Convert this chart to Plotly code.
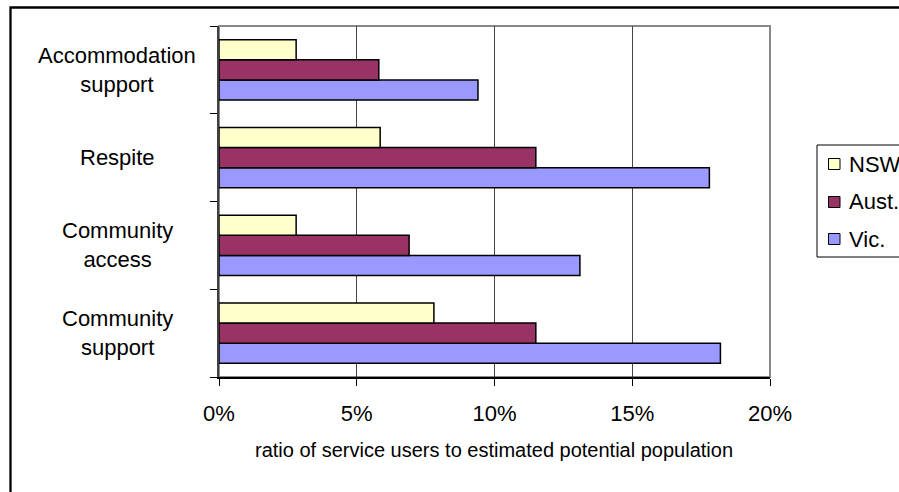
import plotly.graph_objects as go

# Data (bottom-to-top category order for Plotly)
categories = ["Community support", "Community access", "Respite", "Accommodation support"]
cat_labels = ["Community<br>support", "Community<br>access", "Respite", "Accommodation<br>support"]
nsw = [0.078, 0.028, 0.0585, 0.028]
aust = [0.115, 0.069, 0.115, 0.058]
vic = [0.182, 0.131, 0.178, 0.094]
series_names = ["NSW", "Aust.", "Vic."]
colors = {"NSW": "#FFFFCC", "Aust.": "#993366", "Vic.": "#9999FF"}
x_ticks = [0, 0.05, 0.10, 0.15, 0.20]

W, H = 899, 492
L, R, T, B = 219, 770, 26, 377  # plot area in pixels
pw, ph = R - L, B - T

def px(x):
    return (x - L) / pw

def py(y):
    return (B - y) / ph

FONT = "Liberation Sans, Arial, sans-serif"

fig = go.Figure()
# Vic first so it sits at the bottom of each group
for name, vals in [("Vic.", vic), ("Aust.", aust), ("NSW", nsw)]:
    fig.add_trace(go.Bar(
        y=categories, x=vals, orientation="h", name=name,
        marker=dict(color=colors[name], line=dict(color="#000000", width=1.5)),
        showlegend=False, hoverinfo="skip",
    ))

fig.update_layout(
    width=W, height=H,
    margin=dict(l=L, r=W - R, t=T, b=H - B, pad=0),
    paper_bgcolor="white", plot_bgcolor="white",
    barmode="group", bargap=0.316, bargroupgap=0,
    font=dict(family=FONT, color="black"),
)

fig.update_xaxes(
    range=[0, 0.20], tickvals=x_ticks, tickformat=".0%",
    showgrid=True, gridcolor="#444444", gridwidth=1,
    showline=True, linecolor="#000000", linewidth=1.5,
    ticks="outside", ticklen=7, tickcolor="#000000", tickwidth=1,
    tickfont=dict(size=22, family=FONT, color="black"),
    ticklabelstandoff=9, zeroline=False, fixedrange=True,
)
fig.update_yaxes(
    categoryorder="array", categoryarray=categories,
    tickson="boundaries", showticklabels=False, showgrid=False,
    showline=True, linecolor="#404040", linewidth=1.5,
    ticks="outside", ticklen=7, tickcolor="#000000", tickwidth=1,
    fixedrange=True,
)

shapes = []
# Plot area border (gray, top/right)
shapes.append(dict(type="rect", xref="paper", yref="paper", x0=0, x1=1, y0=0, y1=1,
                   line=dict(color="#888888", width=2), layer="below"))
# Outer chart frame (clipped at right/bottom)
shapes.append(dict(type="rect", xref="paper", yref="paper",
                   x0=px(10.5), x1=px(1000), y0=py(600), y1=py(7.5),
                   line=dict(color="#000000", width=2.3)))
# Legend box
shapes.append(dict(type="rect", xref="paper", yref="paper",
                   x0=px(817), x1=px(1000), y0=py(257), y1=py(145),
                   line=dict(color="#000000", width=1), fillcolor="white"))

annotations = []
legend_y = [164, 202, 239]
for name, yc in zip(series_names, legend_y):
    shapes.append(dict(type="rect", xref="paper", yref="paper",
                       x0=px(828.5), x1=px(840), y0=py(yc + 5.5), y1=py(yc - 5.5),
                       line=dict(color="#000000", width=1), fillcolor=colors[name]))
    annotations.append(dict(text=name, xref="paper", yref="paper", x=px(847), y=py(yc),
                            xanchor="left", yanchor="middle", showarrow=False,
                            font=dict(size=22, family=FONT, color="black")))

for cat, lab in zip(categories, cat_labels):
    annotations.append(dict(text=lab, xref="paper", yref="y", x=px(117), y=cat,
                            xanchor="center", yanchor="middle", align="center",
                            showarrow=False,
                            font=dict(size=22, family=FONT, color="black")))

annotations.append(dict(text="ratio of service users to estimated potential population",
                        xref="paper", yref="paper", x=px(494), y=py(450),
                        xanchor="center", yanchor="middle", showarrow=False,
                        font=dict(size=20, family=FONT, color="black")))

fig.update_layout(shapes=shapes, annotations=annotations)

fig.write_html("out.html")
